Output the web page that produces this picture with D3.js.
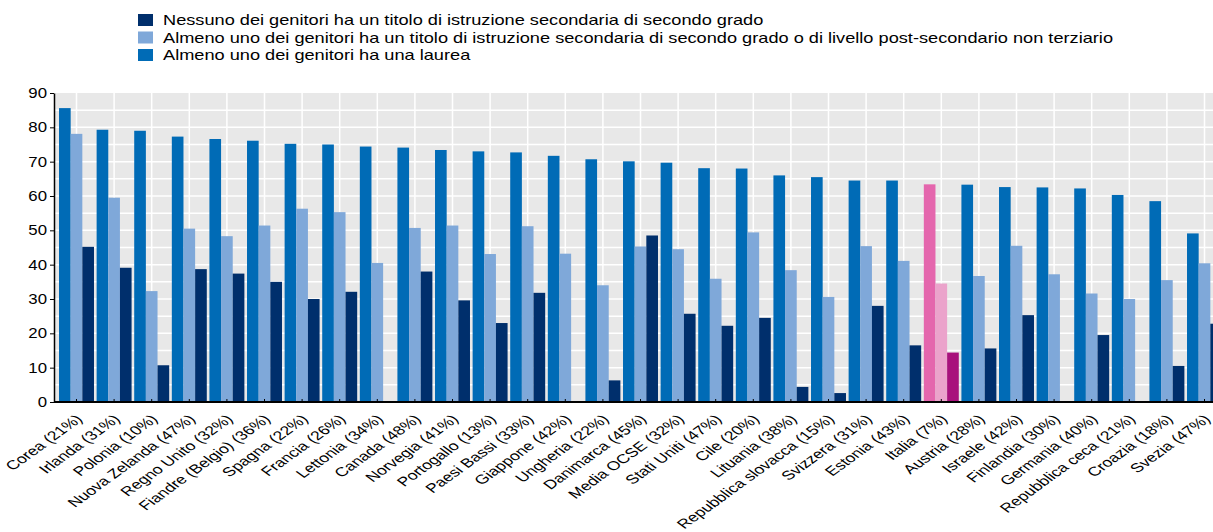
<!DOCTYPE html>
<html>
<head>
<meta charset="utf-8">
<script src="https://cdn.jsdelivr.net/npm/d3@7"></script>
<style>
  body { margin: 0; background: #fff; }
  svg { display: block; font-family: "Liberation Sans", Arial, sans-serif; }
</style>
</head>
<body>
<svg id="chart" width="1213" height="532"></svg>
<script>
// categorie (paesi) e valori
const countries = ["Corea (21%)", "Irlanda (31%)", "Polonia (10%)", "Nuova Zelanda (47%)", "Regno Unito (32%)",
  "Fiandre (Belgio) (36%)", "Spagna (22%)", "Francia (26%)", "Lettonia (34%)", "Canada (48%)",
  "Norvegia (41%)", "Portogallo (13%)", "Paesi Bassi (33%)", "Giappone (42%)", "Ungheria (22%)",
  "Danimarca (45%)", "Media OCSE (32%)", "Stati Uniti (47%)", "Cile (20%)", "Lituania (38%)",
  "Repubblica slovacca (15%)", "Svizzera (31%)", "Estonia (43%)", "Italia (7%)", "Austria (28%)",
  "Israele (42%)", "Finlandia (30%)", "Germania (40%)", "Repubblica ceca (21%)", "Croazia (18%)", "Svezia (47%)"];

const laurea = [85.6, 79.3, 79.0, 77.3, 76.6, 76.1, 75.2, 75.0, 74.4, 74.1,
  73.4, 73.0, 72.7, 71.7, 70.7, 70.1, 69.7, 68.1, 68.0, 66.0,
  65.5, 64.5, 64.5, 63.4, 63.3, 62.6, 62.5, 62.2, 60.3, 58.5, 49.1];

const secondaria = [78.1, 59.5, 32.3, 50.5, 48.3, 51.4, 56.3, 55.3, 40.5, 50.7,
  51.4, 43.1, 51.2, 43.2, 34.0, 45.3, 44.5, 35.9, 49.4, 38.4,
  30.6, 45.4, 41.1, 34.5, 36.7, 45.5, 37.2, 31.6, 30.0, 35.5, 40.4];

const nessuno = [45.2, 39.1, 10.7, 38.7, 37.4, 35.0, 30.0, 32.1, null, 38.0,
  29.6, 23.0, 31.8, null, 6.3, 48.5, 25.7, 22.2, 24.5, 4.4,
  2.6, 28.0, 16.5, 14.4, 15.6, 25.3, null, 19.5, null, 10.5, 22.8];

const legendLabels = [
  "Nessuno dei genitori ha un titolo di istruzione secondaria di secondo grado",
  "Almeno uno dei genitori ha un titolo di istruzione secondaria di secondo grado o di livello post-secondario non terziario",
  "Almeno uno dei genitori ha una laurea"
];

const yTicks = [0, 10, 20, 30, 40, 50, 60, 70, 80, 90];

const series = [
  { key: "laurea", values: laurea, color: "#006bb6", hl: "#e466ad" },
  { key: "secondaria", values: secondaria, color: "#7fa8d9", hl: "#eba3cb" },
  { key: "nessuno", values: nessuno, color: "#002f6c", hl: "#a8127c" }
];
const highlight = "Italia (7%)";

const svg = d3.select("#chart");
const plot = { left: 55, top: 93, bottom: 402, right: 1213 };
// il grafico originale è "stirato" in orizzontale: i testi vengono allargati
const stretch = 1.38;

const x = d3.scaleBand()
  .domain(countries)
  .range([57.7, 57.7 + countries.length * 37.6])
  .paddingInner(0.07)
  .paddingOuter(0.035);

const xs = d3.scaleBand()
  .domain(series.map(s => s.key))
  .range([0, x.bandwidth()]);

const y = d3.scaleLinear().domain([0, 90]).range([plot.bottom, plot.top]);

// sfondo
svg.append("rect")
  .attr("x", plot.left).attr("y", plot.top)
  .attr("width", plot.right - plot.left).attr("height", plot.bottom - plot.top)
  .attr("fill", "#e8e8e8");

// griglia
const grid = svg.append("g").attr("stroke", "#fff").attr("stroke-width", 1.5);
grid.selectAll("line.h")
  .data(d3.range(5, 90, 5))
  .join("line")
  .attr("class", "h")
  .attr("x1", plot.left).attr("x2", plot.right)
  .attr("y1", d => y(d)).attr("y2", d => y(d));
grid.selectAll("line.v")
  .data(countries)
  .join("line")
  .attr("class", "v")
  .attr("x1", d => x(d) + x.bandwidth() / 2).attr("x2", d => x(d) + x.bandwidth() / 2)
  .attr("y1", plot.top).attr("y2", plot.bottom);

// barre
const groups = svg.append("g").selectAll("g")
  .data(countries)
  .join("g")
  .attr("transform", d => `translate(${x(d)},0)`);

groups.selectAll("rect")
  .data((c, i) => series.map(s => ({ key: s.key, v: s.values[i], color: c === highlight ? s.hl : s.color }))
    .filter(d => d.v != null))
  .join("rect")
  .attr("x", d => xs(d.key))
  .attr("width", xs.bandwidth())
  .attr("y", d => y(d.v))
  .attr("height", d => y(0) - y(d.v))
  .attr("fill", d => d.color);

// asse y
const yAxis = svg.append("g")
  .attr("transform", `translate(${plot.left - 1},0)`)
  .call(d3.axisLeft(y).tickValues(yTicks).tickSize(4).tickSizeOuter(0).tickPadding(3));
yAxis.select(".domain").attr("stroke", "#000").attr("stroke-width", 1.5);
yAxis.selectAll(".tick line").attr("stroke", "#000");
yAxis.selectAll("text")
  .style("font-size", "14px")
  .attr("fill", "#000")
  .attr("x", 0)
  .attr("transform", "translate(-7,0) scale(1.2,1)");

// asse x
const xAxis = svg.append("g")
  .attr("transform", `translate(0,${plot.bottom})`)
  .call(d3.axisBottom(x).tickSize(-3).tickSizeOuter(0));
xAxis.select(".domain").attr("d", `M${plot.left - 1},0H${plot.right}`).attr("stroke", "#000").attr("stroke-width", 2);
xAxis.selectAll(".tick line").attr("stroke", "#000");
xAxis.selectAll("text")
  .style("font-size", "12.8px")
  .attr("fill", "#000")
  .attr("text-anchor", "end")
  .attr("x", 0).attr("y", 0).attr("dy", 0)
  .attr("transform", `translate(7,18) scale(${stretch},1) rotate(-45)`);

// legenda
const legendColors = ["#002f6c", "#7fa8d9", "#006bb6"];
const legend = svg.append("g").attr("transform", "translate(138,14)");
legend.selectAll("rect")
  .data(legendLabels)
  .join("rect")
  .attr("x", 0).attr("y", (d, i) => i * 17.5)
  .attr("width", 15).attr("height", 12)
  .attr("fill", (d, i) => legendColors[i]);
legend.selectAll("text")
  .data(legendLabels)
  .join("text")
  .attr("x", 0).attr("y", 0)
  .attr("transform", (d, i) => `translate(25,${i * 17.5 + 11}) scale(1.3,1)`)
  .style("font-size", "14px")
  .attr("fill", "#000")
  .text(d => d);
</script>
</body>
</html>
